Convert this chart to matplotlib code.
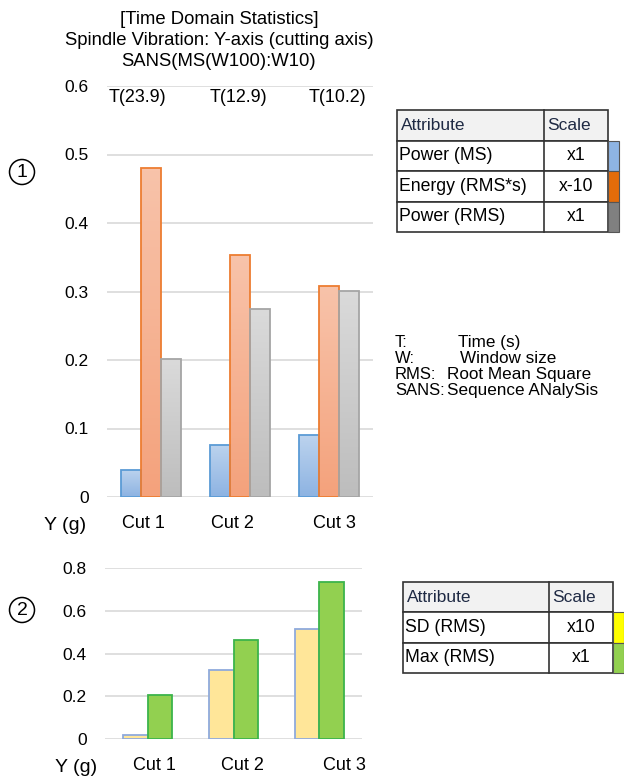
import matplotlib
matplotlib.use("Agg")
import numpy as np
import matplotlib.pyplot as plt
from matplotlib.colors import LinearSegmentedColormap
from matplotlib.patches import Rectangle, Circle

plt.rcParams['font.family'] = ['Liberation Sans', 'DejaVu Sans']

# ---- data ----
cuts = ["Cut 1", "Cut 2", "Cut 3"]
time_labels = ["T(23.9)", "T(12.9)", "T(10.2)"]

power_ms = [0.040, 0.076, 0.090]
energy_rms_s = [0.480, 0.354, 0.308]
power_rms = [0.201, 0.275, 0.301]

sd_rms = [0.020, 0.322, 0.514]
max_rms = [0.205, 0.465, 0.736]

table1_rows = [("Power (MS)", "x1"), ("Energy (RMS*s)", "x-10"), ("Power (RMS)", "x1")]
table2_rows = [("SD (RMS)", "x10"), ("Max (RMS)", "x1")]

notes = [("T:", "Time (s)"), ("W:", "Window size"),
         ("RMS:", "Root Mean Square"), ("SANS:", "Sequence ANalySis")]

W, H = 624, 781
fig = plt.figure(figsize=(W / 100, H / 100), dpi=100)


def px_axes(x0, x1, y_bottom, y_top):
    return fig.add_axes([x0 / W, 1 - y_bottom / H, (x1 - x0) / W, (y_bottom - y_top) / H])


def style_axes(ax, ymax, step, ypad, xpad, label_shift):
    ax.set_ylim(0, ymax)
    ax.set_xlim(-0.5, 2.5)
    ax.set_yticks(np.arange(0, ymax + step / 2, step))
    ax.yaxis.grid(True, color="#d9d9d9", linewidth=1.2)
    ax.set_axisbelow(True)
    for s in ax.spines.values():
        s.set_visible(False)
    ax.tick_params(length=0, labelsize=12.5)
    ax.tick_params(axis="y", pad=ypad)
    ax.tick_params(axis="x", pad=xpad, labelsize=13)
    # category labels sit a little off the group centres in the original
    ax.set_xticks(np.arange(len(cuts)) + np.array(label_shift))
    ax.set_xticklabels(cuts)


def gradient_bars(ax, xs, vals, width, top, bottom, edge):
    cmap = LinearSegmentedColormap.from_list("g", [bottom, top])
    bars = ax.bar(xs, vals, width, facecolor="none", edgecolor=edge, linewidth=1.3, zorder=3)
    grad = np.linspace(0, 1, 100).reshape(-1, 1)
    for b in bars:
        x, w, h = b.get_x(), b.get_width(), b.get_height()
        im = ax.imshow(grad, extent=[x, x + w, 0, h], origin="lower", cmap=cmap,
                       aspect="auto", zorder=2)
        im.set_clip_path(b)
    return bars


# ---- chart 1 ----
ax1 = px_axes(107, 373, 497, 86)
x = np.arange(len(cuts))
bw = 0.225
gradient_bars(ax1, x - bw, power_ms, bw, "#bcd3ee", "#8db3e2", "#5b9bd5")
gradient_bars(ax1, x, energy_rms_s, bw, "#f8c3aa", "#f4a27c", "#ed7d31")
gradient_bars(ax1, x + bw, power_rms, bw, "#dadada", "#bdbdbd", "#a5a5a5")
style_axes(ax1, 0.6, 0.1, 13, 13, [-0.09, -0.08, 0.07])
ax1.set_yticklabels(["0", "0.1", "0.2", "0.3", "0.4", "0.5", "0.6"])

# ---- chart 2 ----
ax2 = px_axes(105, 362, 739, 568)
bw2 = 0.285
ax2.bar(x - bw2 / 2, sd_rms, bw2, color="#ffe699", edgecolor="#8faadc", linewidth=1.3, zorder=3)
ax2.bar(x + bw2 / 2, max_rms, bw2, color="#92d050", edgecolor="#3cb44b", linewidth=1.3, zorder=3)
style_axes(ax2, 0.8, 0.2, 13, 13, [0.08, 0.105, 0.29])
ax2.set_yticklabels(["0", "0.2", "0.4", "0.6", "0.8"])

# ---- overlay (titles, tables, notes) ----
ov = fig.add_axes([0, 0, 1, 1])
ov.set_xlim(0, W)
ov.set_ylim(H, 0)
ov.axis("off")

title = ["[Time Domain Statistics]", "Spindle Vibration: Y-axis (cutting axis)", "SANS(MS(W100):W10)"]
for i, line in enumerate(title):
    ov.text(219, 19 + i * 21.5, line, ha="center", va="center", fontsize=13.3)

for tx, lab in zip([137, 238, 337], time_labels):
    ov.text(tx, 98, lab, ha="center", va="center", fontsize=12.9)

ov.text(65, 525, "Y (g)", ha="center", va="center", fontsize=14)
ov.text(76, 768, "Y (g)", ha="center", va="center", fontsize=14)

for cy, num in ((172, "1"), (610, "2")):
    ov.add_patch(Circle((22, cy), 12.5, facecolor="white", edgecolor="black", linewidth=1.1))
    ov.text(22, cy + 0.5, num, ha="center", va="center", fontsize=14)


def draw_table(x0, xd, x1, y0, rh, rows, strip_colors):
    ov.add_patch(Rectangle((x0, y0), x1 - x0, rh, facecolor="#f2f2f2", edgecolor="#333333", lw=1.2))
    ov.plot([xd, xd], [y0, y0 + rh], color="#333333", lw=1.2)
    ov.text(x0 + 4, y0 + rh / 2, "Attribute", va="center", fontsize=12.5, color="#1f2a44")
    ov.text(xd + 3, y0 + rh / 2, "Scale", va="center", fontsize=12.5, color="#1f2a44")
    for i, (name, scale) in enumerate(rows):
        yy = y0 + rh * (i + 1)
        ov.add_patch(Rectangle((x0, yy), x1 - x0, rh, facecolor="white", edgecolor="#333333", lw=1.2))
        ov.plot([xd, xd], [yy, yy + rh], color="#333333", lw=1.2)
        ov.add_patch(Rectangle((x1, yy), 11, rh, facecolor=strip_colors[i], edgecolor="#555555", lw=0.8))
        ov.text(x0 + 2, yy + rh / 2, name, va="center", fontsize=12.7)
        ov.text((xd + x1) / 2, yy + rh / 2, scale, ha="center", va="center", fontsize=12.7)


draw_table(397, 544, 608, 110, 30.5, table1_rows, ["#8eb4e3", "#e46c0a", "#808080"])
draw_table(403, 549, 613, 582, 30.3, table2_rows, ["#ffff00", "#92d050"])

for i, (k, v) in enumerate(notes):
    yy = 347 + i * 16
    ov.text(395, yy, k, va="baseline", fontsize=12)
    ov.text([458, 460, 447, 447][i], yy, v, va="baseline", fontsize=12.3)

fig.savefig("out.png", dpi=100, facecolor="white")
